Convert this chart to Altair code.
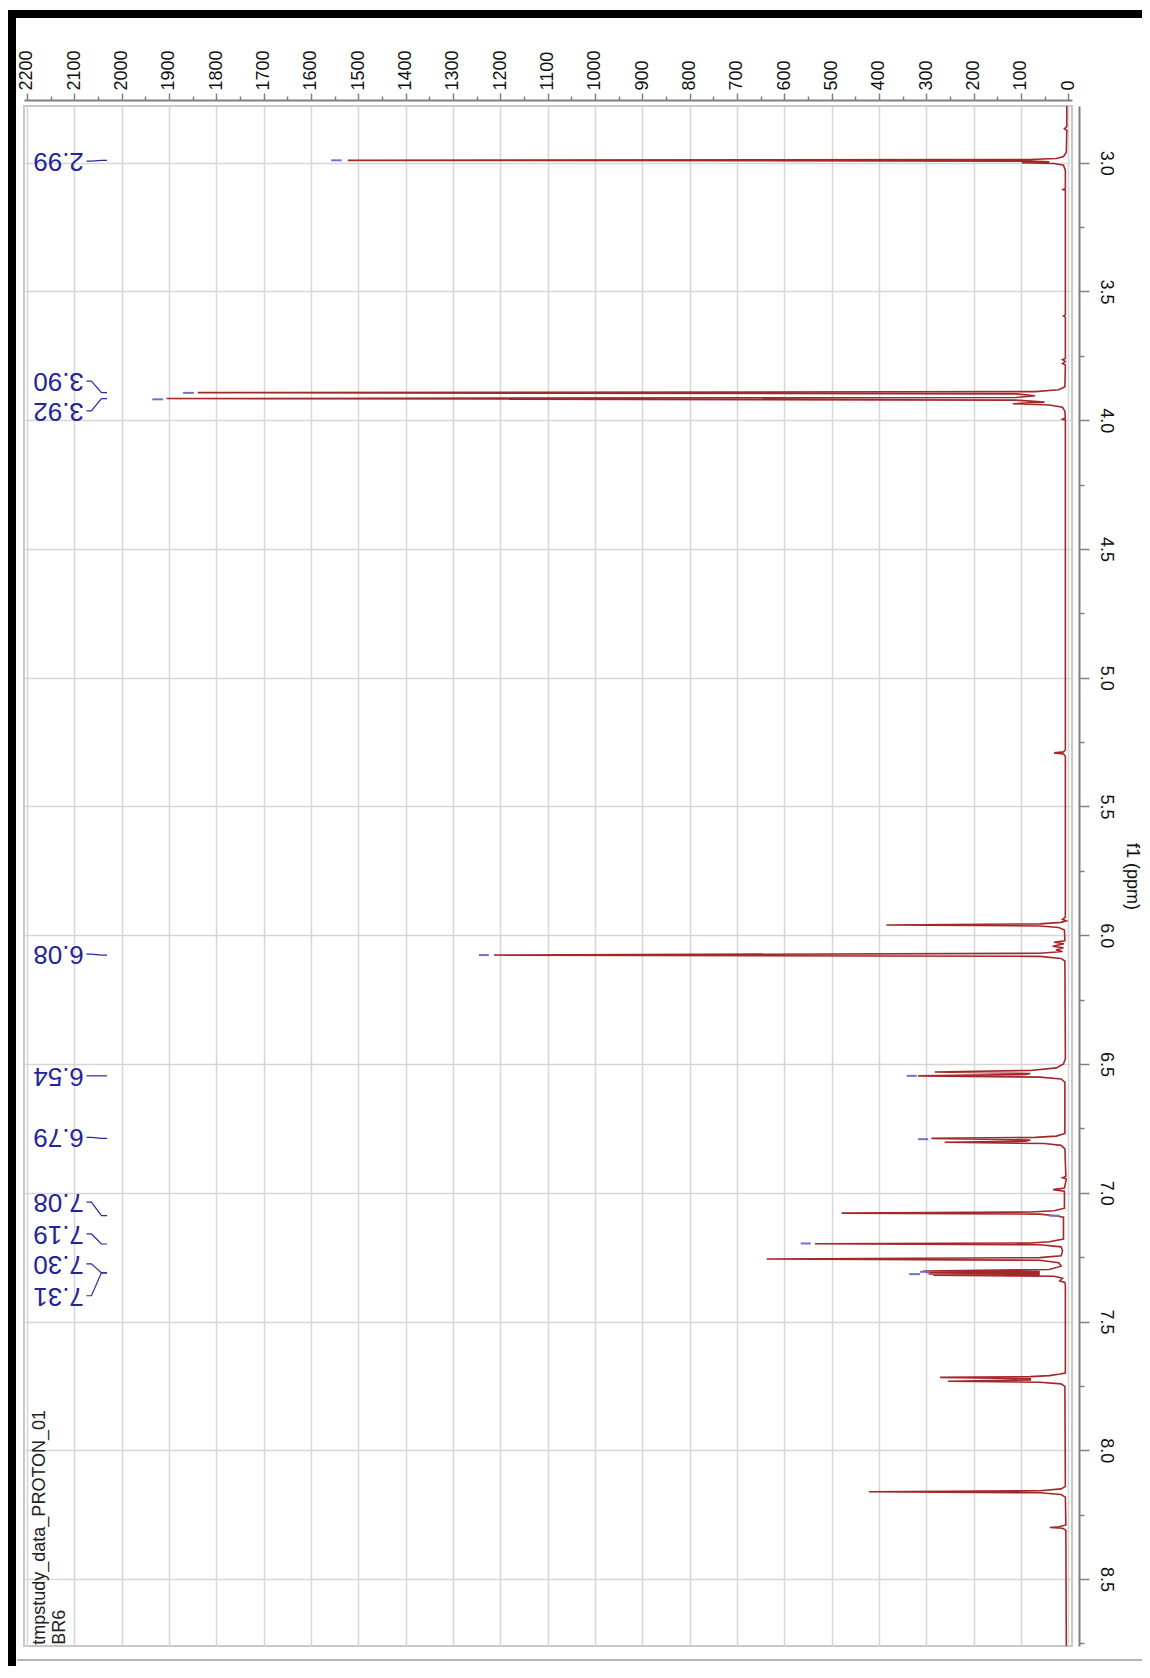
import altair as alt
import pandas as pd

# ---------------- spectrum (ppm, intensity) ----------------
SPEC_PPM = [
    2.780, 2.860, 2.868, 2.874, 2.960,
    2.976, 2.984, 2.988, 2.991, 2.994, 2.997, 3.000, 3.003, 3.010, 3.030,
    3.100, 3.104, 3.108, 3.590, 3.595, 3.600,
    3.760, 3.765, 3.772, 3.780, 3.786,
    3.870, 3.882, 3.889, 3.893, 3.898, 3.905, 3.912, 3.916, 3.922, 3.930, 3.936, 3.941, 3.950, 3.965,
    3.992, 3.996, 4.000,
    5.280, 5.288, 5.292, 5.296, 5.305,
    5.930, 5.938, 5.944, 5.950, 5.956, 5.960, 5.964, 5.970, 5.980,
    6.022, 6.027, 6.033, 6.043, 6.049, 6.057, 6.063, 6.070, 6.077, 6.082, 6.090, 6.100,
    6.480, 6.500, 6.515, 6.525, 6.531, 6.537, 6.541, 6.546, 6.551, 6.558, 6.570,
    6.770, 6.780, 6.785, 6.789, 6.795, 6.800, 6.804, 6.809, 6.816, 6.830,
    6.937, 6.942, 6.947, 6.982, 6.988, 6.994,
    7.060, 7.070, 7.075, 7.079, 7.083, 7.089, 7.095,
    7.180, 7.190, 7.195, 7.198, 7.202, 7.210, 7.225,
    7.245, 7.252, 7.257, 7.262, 7.272, 7.285,
    7.298, 7.304, 7.306, 7.309, 7.312, 7.315, 7.317, 7.320, 7.324, 7.332, 7.342, 7.348, 7.360,
    7.700, 7.704, 7.710, 7.714, 7.717, 7.722, 7.727, 7.732, 7.736, 7.742, 7.752,
    8.140, 8.150, 8.157, 8.161, 8.165, 8.172, 8.182,
    8.290, 8.297, 8.300, 8.303, 8.310,
    8.760,
]
SPEC_INT = [
    3, 3, 8, 3, 4,
    10, 25, 80, 1522, 80, 40, 98, 30, 10, 6,
    6, 11, 6, 6, 10, 6,
    6, 12, 6, 12, 6,
    7, 20, 70, 1839, 110, 70, 110, 1905, 110, 50, 117, 40, 12, 7,
    6, 12, 6,
    6, 10, 30, 10, 6,
    6, 12, 4, 15, 60, 384, 60, 20, 8,
    7, 30, 9, 33, 10, 26, 12, 60, 1213, 60, 15, 7,
    6, 10, 25, 80, 282, 80, 90, 317, 60, 15, 7,
    7, 25, 70, 289, 80, 90, 261, 50, 15, 7,
    5, 12, 4, 8, 32, 8,
    8, 30, 80, 479, 60, 28, 10,
    10, 40, 80, 535, 60, 15, 12,
    15, 60, 637, 60, 20, 15,
    40, 306, 60, 300, 60, 295, 60, 285, 30, 12, 18, 7, 6,
    6, 17, 40, 80, 271, 80, 80, 254, 60, 15, 7,
    6, 15, 60, 421, 60, 15, 6,
    5, 20, 39, 12, 5,
    4,
]

# ---------------- peak annotations ----------------
PEAK_LABELS = ["2.99", "3.90", "3.92", "6.08", "6.54", "6.79", "7.08", "7.19", "7.30", "7.31"]
LABEL_PPM = [2.994, 3.848, 3.964, 6.073, 6.546, 6.785, 7.036, 7.160, 7.276, 7.400]
TARGET_PPM = [2.991, 3.893, 3.916, 6.077, 6.546, 6.789, 7.089, 7.199, 7.311, 7.311]
MARKER_PPM = [2.991, 3.894, 3.919, 6.077, 6.546, 6.792, 7.089, 7.197, 7.307, 7.316]
MARKER_FROM = [1535, 1847, 1912, 1224, 320, 296, 18, 544, 292, 313]
MARKER_TO = [1557, 1870, 1935, 1245, 341, 317, 41, 565, 313, 336]

INFO_LINES = ["tmpstudy_data_PROTON_01", "BR6"]

X_TICKS = list(range(0, 2201, 50))
Y_TICKS = [3.0 + 0.25 * i for i in range(24)]

# layout constants (in intensity units of the horizontal scale)
LABEL_X = 2133
CONN_X = [2074, 2063.6, 2042.4, 2030.6]
INFO_X = [2172, 2130]
INFO_PPM = 8.755

X_DOMAIN = [-8, 2206]
Y_DOMAIN = [2.78, 8.76]

W, H = 1048, 1540

spec_df = pd.DataFrame({"i": range(len(SPEC_PPM)), "ppm": SPEC_PPM, "x": SPEC_INT})
label_df = pd.DataFrame({"label": PEAK_LABELS, "ppm": LABEL_PPM, "x": [LABEL_X] * len(PEAK_LABELS)})
marker_df = pd.DataFrame({"ppm": MARKER_PPM, "x": MARKER_FROM, "x1": MARKER_TO})
conn_rows = []
for lab, lp, tp in zip(PEAK_LABELS, LABEL_PPM, TARGET_PPM):
    for k, (cx, cy) in enumerate(zip(CONN_X, [lp, lp, tp, tp])):
        conn_rows.append({"label": lab, "seq": k, "x": cx, "ppm": cy})
conn_df = pd.DataFrame(conn_rows)
info_df = pd.DataFrame({"text": INFO_LINES, "x": INFO_X, "ppm": [INFO_PPM] * 2})
one_df = pd.DataFrame({"k": [0]})

xscale = alt.Scale(domain=X_DOMAIN, reverse=True, nice=False, zero=False)
yscale = alt.Scale(domain=Y_DOMAIN, reverse=True, nice=False, zero=False)

x_axis = alt.Axis(
    orient="top", values=X_TICKS, format="d",
    labelExpr="datum.value % 100 === 0 ? datum.label : ''",
    labelAngle=270, labelFontSize=18, labelColor="#111111", labelPadding=3,
    labelOverlap=False, labelFlush=False,
    tickSize={"condition": {"test": "datum.value % 100 === 0", "value": 7}, "value": 4},
    tickColor="#808080", tickWidth=1.5, domainColor="#808080", domainWidth=2,
    grid=True, gridColor="#d6d6d6", gridWidth=1.5,
    gridOpacity={"condition": {"test": "datum.value % 100 === 0", "value": 1}, "value": 0},
    offset=6, title=None,
)
y_axis = alt.Axis(
    orient="right", values=Y_TICKS,
    labelExpr="(datum.value * 2) % 1 === 0 ? format(datum.value, '.1f') : ''",
    labelAngle=90, labelFontSize=18, labelColor="#111111", labelPadding=7,
    labelOverlap=False, labelFlush=False,
    tickSize={"condition": {"test": "(datum.value * 2) % 1 === 0", "value": 10}, "value": 5},
    tickColor="#808080", tickWidth=1.5, domainColor="#808080", domainWidth=2,
    grid=True, gridColor="#d6d6d6", gridWidth=1.5,
    gridOpacity={"condition": {"test": "(datum.value * 2) % 1 === 0", "value": 1}, "value": 0},
    offset=7, title="f1 (ppm)", titleAngle=90, titleFontSize=18, titleFontWeight="normal",
    titleColor="#111111", titlePadding=8,
)

X = alt.X("x:Q", scale=xscale, axis=x_axis)
Y = alt.Y("ppm:Q", scale=yscale, axis=y_axis)

spectrum = alt.Chart(spec_df).mark_line(color="#a3282a", strokeWidth=1.6).encode(
    x=X, y=Y, order=alt.Order("i:Q"),
)

markers = alt.Chart(marker_df).mark_rule(color="#7070d0", strokeWidth=2).encode(
    x=X, x2="x1:Q", y=Y,
)

connectors = alt.Chart(conn_df).mark_line(color="#2a2a9c", strokeWidth=1.2).encode(
    x=X, y=Y, detail="label:N", order=alt.Order("seq:Q"),
)

labels = alt.Chart(label_df).mark_text(
    angle=180, align="center", baseline="middle", fontSize=26, color="#24249a", font="Liberation Sans"
).encode(x=X, y=Y, text="label:N")

info = alt.Chart(info_df).mark_text(
    angle=270, align="left", baseline="middle", fontSize=18, color="#222222", font="Liberation Sans"
).encode(x=X, y=Y, text="text:N")

left_bar = alt.Chart(one_df).mark_rule(color="black", strokeWidth=8).encode(
    x=alt.value(-12), y=alt.value(-96), y2=alt.value(1600)
)
top_bar = alt.Chart(one_df).mark_rule(color="black", strokeWidth=8).encode(
    x=alt.value(-16), x2=alt.value(1140), y=alt.value(-92)
)
bottom_line = alt.Chart(one_df).mark_rule(color="#b4b4b4", strokeWidth=2).encode(
    x=alt.value(-7), x2=alt.value(1140), y=alt.value(H + 14)
)

chart = alt.layer(
    spectrum, markers, connectors, labels, info, left_bar, top_bar, bottom_line
).properties(
    width=W, height=H,
    autosize=alt.AutoSizeParams(type="none"),
    padding={"left": 16, "top": 98, "right": 70, "bottom": 20},
).configure(
    font="Liberation Sans", background="white",
).configure_view(
    stroke="#c8c8c8", strokeWidth=2,
)

chart.save("out.html", embed_options={"renderer": "svg", "actions": False})
